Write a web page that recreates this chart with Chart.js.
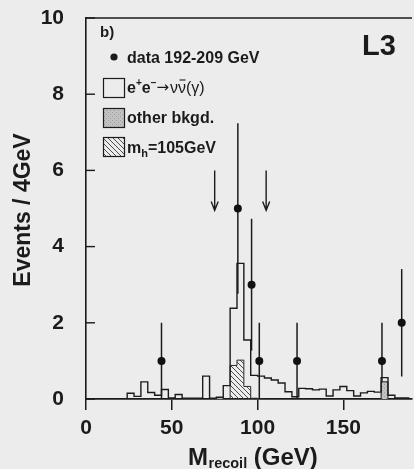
<!DOCTYPE html>
<html>
<head>
<meta charset="utf-8">
<script src="https://cdn.jsdelivr.net/npm/chart.js@4.4.1/dist/chart.umd.min.js"></script>
<style>
  html, body { margin: 0; padding: 0; background: #ececec; overflow: hidden; }
  #wrap { position: relative; width: 416px; height: 469px; }
  canvas { display: block; }
</style>
</head>
<body>
<div id="wrap"><canvas id="c" width="416" height="469"></canvas></div>
<script>
// Recoil-mass spectrum, 4 GeV bins (lower bin edges in GeV)
const binWidth = 4;
const binLow = [24, 28, 32, 36, 40, 44, 48, 52, 56, 60, 64, 68, 72, 76, 80, 84, 88, 92, 96, 100,
                104, 108, 112, 116, 120, 124, 128, 132, 136, 140, 144, 148, 152, 156, 160, 164, 168, 172, 176, 180,
                184, 188];

// e+e- -> nu nubar (gamma) expectation, events per bin
const nunuGamma = [0.07, 0.15, 0.07, 0.45, 0.17, 0.10, 0.25, 0.03, 0.12, 0.02, 0.02, 0.02, 0.02, 0.02, 0.01, 0.35, 2.38, 3.56, 1.55, 0.62,
                   0.60, 0.55, 0.50, 0.42, 0.19, 0.06, 0.28, 0.27, 0.24, 0.26, 0.08, 0.24, 0.33, 0.22, 0.08, 0.16, 0.20, 0.18, 0.11, 0.10,
                   0.03, 0.03];

// other backgrounds, stacked under the nu nubar histogram
const otherBkgd = [0, 0, 0, 0, 0, 0, 0, 0, 0, 0, 0, 0, 0.58, 0, 0.04, 0, 0, 0, 0, 0,
                   0, 0, 0, 0, 0, 0, 0, 0, 0, 0, 0, 0, 0, 0, 0, 0, 0, 0, 0.45, 0,
                   0, 0];

// Higgs signal, m_h = 105 GeV
const higgs105 = [0, 0, 0, 0, 0, 0, 0, 0, 0, 0, 0, 0, 0, 0, 0, 0.15, 0.88, 1.02, 0.33, 0.02,
                  0, 0, 0, 0, 0, 0, 0, 0, 0, 0, 0, 0, 0, 0, 0, 0, 0, 0, 0, 0,
                  0, 0];

// selected data, 192-209 GeV
const dataMass = [44, 88.5, 96.5, 101, 123, 172.5, 184];
const dataEvents = [1, 5, 3, 1, 1, 1, 2];
const dataError = [1, 2.24, 1.73, 1, 1, 1, 1.41];

// mass-window arrows
const windowEdges = [75, 105];
const arrowFrom = 6.0;
const arrowTo = 4.95;

const yTicks = [0, 2, 4, 6, 8, 10];

const FONT = '"Liberation Sans", Arial, Helvetica, sans-serif';
const SYM = '"DejaVu Sans", sans-serif';
const INK = '#1b1b1b';
const PAPER = '#ececec';

const totalBkgd = nunuGamma.map((v, i) => +(v + otherBkgd[i]).toFixed(3));

// outline points for a histogram drawn as a stepped line
function stepPoints(values) {
  const a = values.findIndex(v => v > 0);
  let b = values.length - 1;
  while (b > a && values[b] <= 0) b--;
  const pts = [{ x: binLow[a], y: 0 }];
  for (let i = a; i <= b; i++) pts.push({ x: binLow[i], y: values[i] });
  pts.push({ x: binLow[b] + binWidth, y: 0 });
  return pts;
}

function makeHatch() {
  const c = document.createElement('canvas');
  c.width = 5; c.height = 5;
  const g = c.getContext('2d');
  g.strokeStyle = '#3a3a3a';
  g.lineWidth = 0.9;
  g.beginPath();
  g.moveTo(-1, -1); g.lineTo(6, 6);
  g.moveTo(-1, 4); g.lineTo(1, 6);
  g.moveTo(4, -1); g.lineTo(6, 1);
  g.stroke();
  return g.createPattern(c, 'repeat');
}

function makeStipple() {
  const c = document.createElement('canvas');
  c.width = 4; c.height = 4;
  const g = c.getContext('2d');
  g.fillStyle = '#c2c2c2';
  g.fillRect(0, 0, 4, 4);
  g.fillStyle = '#9c9c9c';
  g.fillRect(0, 0, 1, 1);
  g.fillRect(2, 2, 1, 1);
  return g.createPattern(c, 'repeat');
}

const hatch = makeHatch();
const stipple = makeStipple();

// frame top line and inward y tick marks
const frame = {
  id: 'frame',
  afterDatasetsDraw(chart) {
    const { ctx, chartArea: a, scales: { y } } = chart;
    ctx.save();
    ctx.strokeStyle = INK;
    ctx.lineWidth = 1.6;
    ctx.beginPath();
    ctx.moveTo(a.left, a.top);
    ctx.lineTo(a.right, a.top);
    ctx.stroke();
    ctx.lineWidth = 1.4;
    yTicks.forEach(t => {
      const py = y.getPixelForValue(t);
      ctx.beginPath();
      ctx.moveTo(a.left, py);
      ctx.lineTo(a.left + 9, py);
      ctx.stroke();
    });
    ctx.restore();
  }
};

const errorBars = {
  id: 'errorBars',
  beforeDatasetsDraw(chart) {
    const { ctx, scales: { x, y } } = chart;
    ctx.save();
    ctx.strokeStyle = INK;
    ctx.lineWidth = 1.5;
    dataMass.forEach((m, i) => {
      const px = x.getPixelForValue(m);
      ctx.beginPath();
      ctx.moveTo(px, y.getPixelForValue(dataEvents[i] - dataError[i]));
      ctx.lineTo(px, y.getPixelForValue(dataEvents[i] + dataError[i]));
      ctx.stroke();
    });
    ctx.restore();
  }
};

const arrows = {
  id: 'arrows',
  afterDatasetsDraw(chart) {
    const { ctx, scales: { x, y } } = chart;
    ctx.save();
    ctx.strokeStyle = INK;
    ctx.lineWidth = 1.4;
    windowEdges.forEach(m => {
      const px = x.getPixelForValue(m);
      const top = y.getPixelForValue(arrowFrom);
      const tip = y.getPixelForValue(arrowTo);
      ctx.beginPath();
      ctx.moveTo(px, top);
      ctx.lineTo(px, tip);
      ctx.moveTo(px - 3.5, tip - 9);
      ctx.lineTo(px, tip);
      ctx.lineTo(px + 3.5, tip - 9);
      ctx.stroke();
    });
    ctx.restore();
  }
};

// legend, labels and axis titles
const labels = {
  id: 'labels',
  afterDraw(chart) {
    const { ctx, chartArea: a } = chart;
    const L = a.left, T = a.top;
    ctx.save();
    ctx.fillStyle = INK;
    ctx.strokeStyle = INK;
    ctx.textBaseline = 'alphabetic';
    ctx.textAlign = 'left';

    const bold = s => `bold ${s}px ${FONT}`;
    const plain = (s, f) => `${s}px ${f || FONT}`;
    const put = (txt, font, x, y) => { ctx.font = font; ctx.fillText(txt, x, y); return x + ctx.measureText(txt).width; };

    put('b)', bold(15), L + 14, T + 19);
    put('L3', bold(29), L + 276, T + 37);

    // data entry
    ctx.beginPath();
    ctx.arc(L + 28, T + 39, 3.6, 0, Math.PI * 2);
    ctx.fill();
    const tx = L + 41;
    put('data 192-209 GeV', bold(16), tx, T + 45);

    // boxes
    const bx = L + 17.5, bw = 21, bh = 19;
    const boxTops = [T + 60.5, T + 90.5, T + 119.5];
    const fills = [PAPER, stipple, hatch];
    ctx.lineWidth = 1.2;
    boxTops.forEach((by, i) => {
      ctx.fillStyle = fills[i];
      ctx.fillRect(bx, by, bw, bh);
      ctx.strokeRect(bx, by, bw, bh);
    });
    ctx.fillStyle = INK;

    // e+e- -> nu nubar (gamma)
    let y0 = T + 75;
    let x0 = put('e', bold(16), tx, y0);
    x0 = put('+', bold(10), x0, y0 - 7);
    x0 = put('e', bold(16), x0, y0);
    x0 = put('\u2212', bold(10), x0, y0 - 7);
    x0 = put('\u2192', plain(15, SYM), x0, y0 - 1);
    x0 = put('\u03bd', plain(16), x0 + 1, y0);
    const nb = x0;
    x0 = put('\u03bd', plain(16), x0, y0);
    ctx.lineWidth = 1.1;
    ctx.beginPath();
    ctx.moveTo(nb + 1.5, y0 - 13);
    ctx.lineTo(x0 - 0.5, y0 - 13);
    ctx.stroke();
    put('(\u03b3)', plain(16), x0, y0);

    put('other bkgd.', bold(16), tx, T + 105);

    y0 = T + 135;
    x0 = put('m', bold(16), tx, y0);
    x0 = put('h', bold(11), x0, y0 + 4);
    put('=105GeV', bold(16), x0, y0);

    // x-axis title
    y0 = 465;
    x0 = put('M', bold(24), 188, y0);
    x0 = put('recoil', bold(14.5), x0 + 0.5, y0 + 3);
    put(' (GeV)', bold(24), x0, y0);

    // y-axis title
    ctx.translate(24, 210);
    ctx.rotate(-Math.PI / 2);
    ctx.textAlign = 'center';
    ctx.textBaseline = 'middle';
    ctx.font = bold(23);
    ctx.fillText('Events / 4GeV', 0, 0);
    ctx.restore();
  }
};

const tickFont = { family: FONT, size: 21, weight: 'bold' };

new Chart(document.getElementById('c'), {
  type: 'line',
  data: {
    datasets: [
      {
        label: 'other bkgd.',
        data: stepPoints(otherBkgd),
        stepped: 'after',
        fill: 'origin',
        backgroundColor: stipple,
        borderColor: INK,
        borderWidth: 1,
        pointRadius: 0,
        order: 4
      },
      {
        label: 'm_h=105GeV',
        data: stepPoints(higgs105),
        stepped: 'after',
        fill: 'origin',
        backgroundColor: hatch,
        borderColor: '#2a2a2a',
        borderWidth: 1,
        pointRadius: 0,
        order: 3
      },
      {
        label: 'e+e- -> nu nubar (gamma)',
        data: stepPoints(totalBkgd),
        stepped: 'after',
        fill: false,
        borderColor: INK,
        borderWidth: 1.4,
        pointRadius: 0,
        order: 2
      },
      {
        label: 'data 192-209 GeV',
        data: dataMass.map((m, i) => ({ x: m, y: dataEvents[i] })),
        showLine: false,
        pointRadius: 4,
        pointBackgroundColor: '#111',
        pointBorderColor: '#111',
        pointBorderWidth: 0,
        order: 1
      }
    ]
  },
  options: {
    responsive: false,
    devicePixelRatio: 1,
    animation: false,
    layout: { padding: { top: 18, right: 0, bottom: 0, left: 0 } },
    plugins: { legend: { display: false }, tooltip: { enabled: false } },
    scales: {
      x: {
        type: 'linear',
        min: 0,
        max: 190,
        afterFit: s => { s.height = 70; s.paddingLeft = 0; s.paddingRight = 0; },
        ticks: { stepSize: 50, includeBounds: false, maxRotation: 0, font: tickFont, color: INK, padding: 6 },
        grid: { drawOnChartArea: false, drawTicks: true, tickLength: 11, color: INK, lineWidth: 1.5 },
        border: { display: true, color: INK, width: 1.8 }
      },
      y: {
        type: 'linear',
        min: 0,
        max: 10,
        afterFit: s => { s.width = 86; s.paddingTop = 0; s.paddingBottom = 0; },
        ticks: { stepSize: 2, font: tickFont, color: INK, padding: 22 },
        grid: { drawOnChartArea: false, drawTicks: false },
        border: { display: true, color: INK, width: 1.6 }
      }
    }
  },
  plugins: [frame, errorBars, arrows, labels]
});
</script>
</body>
</html>
